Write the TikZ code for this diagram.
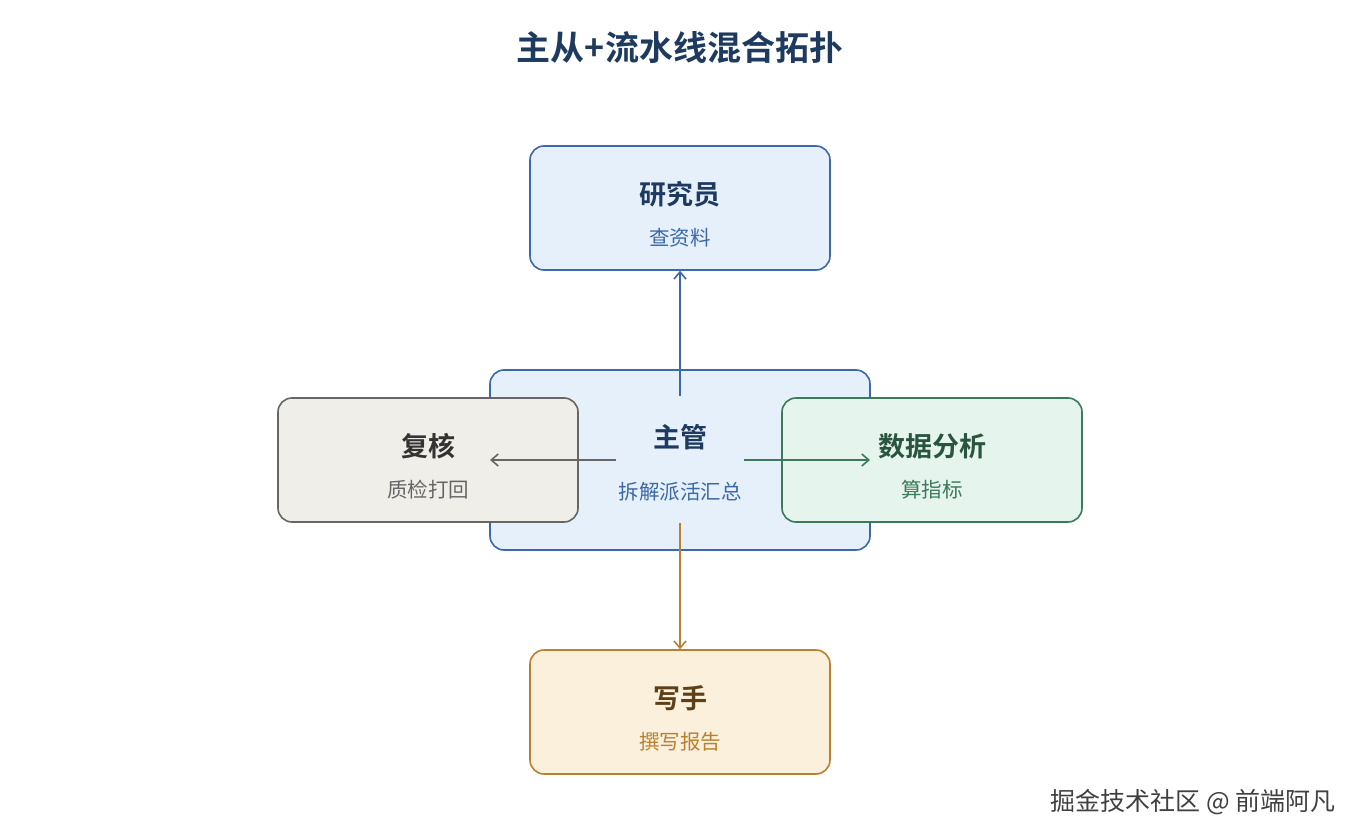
\documentclass[tikz,border=0pt]{standalone}
\usepackage{fontspec}
\setmainfont{Noto Sans CJK SC}[BoldFont={Noto Sans CJK SC Bold}]
\usetikzlibrary{arrows.meta}
\definecolor{blueline}{HTML}{3A68A8}
\definecolor{bluefill}{HTML}{E6F0FA}
\definecolor{grayline}{HTML}{666666}
\definecolor{grayfill}{HTML}{F0EEE9}
\definecolor{greenline}{HTML}{3B7A5A}
\definecolor{greenfill}{HTML}{E5F4EC}
\definecolor{orangeline}{HTML}{B8802F}
\definecolor{orangefill}{HTML}{FBF0DC}
\definecolor{titlecol}{HTML}{1F3A5F}
\tikzset{
  box/.style={draw, line width=1.6pt, rounded corners=14pt, minimum width=300pt, minimum height=124pt},
  head/.style={font=\bfseries\fontsize{27}{31}\selectfont},
  sub/.style={font=\fontsize{20.5}{24}\selectfont},
  link/.style={line width=1.6pt, -{Straight Barb[length=7pt,width=12pt]}}
}
\begin{document}
\begin{tikzpicture}[x=1pt,y=-1pt]
  \useasboundingbox (0,0) rectangle (1360,840);
  \node[font=\bfseries\fontsize{34}{38}\selectfont, text=titlecol] (title) at (680,48) {主从+流水线混合拓扑};

  % the lead in the middle
  \node[box, draw=blueline, fill=bluefill, minimum width=380pt, minimum height=180pt] (lead) at (680,460) {};
  \node[head, text=titlecol] at (680,437) {主管};
  \node[sub, text=blueline] at (680,492) {拆解派活汇总};

  % workers
  \node[box, draw=blueline, fill=bluefill] (research) at (680,208) {};
  \node[head, text=titlecol] at (680,194) {研究员};
  \node[sub, text=blueline] at (680,238) {查资料};

  \node[box, draw=grayline, fill=grayfill] (review) at (428,460) {};
  \node[head, text=black!80] at (428,446) {复核};
  \node[sub, text=grayline] at (428,490) {质检打回};

  \node[box, draw=greenline, fill=greenfill] (analysis) at (932,460) {};
  \node[head, text=greenline!70!black] at (932,446) {数据分析};
  \node[sub, text=greenline] at (932,490) {算指标};

  \node[box, draw=orangeline, fill=orangefill] (writer) at (680,712) {};
  \node[head, text=orangeline!50!black] at (680,698) {写手};
  \node[sub, text=orangeline] at (680,742) {撰写报告};

  \coordinate (up) at (680,396);
  \coordinate (left) at (616,460);
  \coordinate (right) at (744,460);
  \coordinate (down) at (680,523);
  \draw[link, blueline] (up) -- (research.south);
  \draw[link, grayline] (left) -- (490,460);
  \draw[link, greenline] (right) -- (870,460);
  \draw[link, orangeline] (down) -- (writer.north);

  \node[font=\fontsize{25}{29}\selectfont, text=black!75] (mark) at (1193,802) {掘金技术社区 @ 前端阿凡};
\end{tikzpicture}
\end{document}
